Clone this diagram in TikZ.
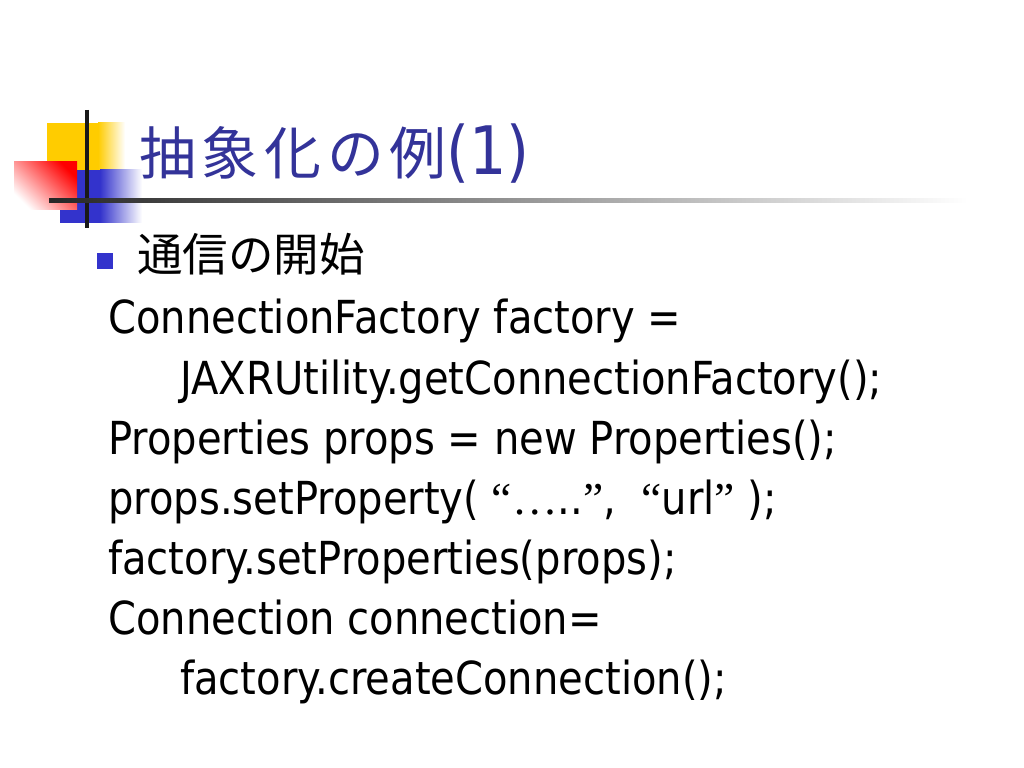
\documentclass[tikz,border=0pt]{standalone}
\usepackage{fontspec}
\setmainfont{DejaVu Sans}[FakeStretch=0.88]
\newfontfamily\jpfont{Noto Sans CJK JP}
\newfontfamily\jptitle{Noto Sans CJK JP}[LetterSpace=10]
\newfontfamily\qfont{Liberation Serif}
\definecolor{titleblue}{RGB}{51,51,153}
\definecolor{barblue}{RGB}{51,51,204}
\definecolor{baryellow}{RGB}{255,204,0}
\begin{document}
\begin{tikzpicture}[x=0.703125pt,y=-0.703125pt,
		code/.style={anchor=base west,inner sep=0pt,font=\fontsize{32}{38}\selectfont}]
	\useasboundingbox[fill=white] (0,0) rectangle (1024,768);
	% corner decoration
	\fill[baryellow] (47,123) rectangle (98,171);
	\shade[left color=baryellow,right color=white] (98,123) rectangle (125,171);
	\fill[barblue] (60,170) rectangle (100,223);
	\shade[left color=barblue,right color=white] (100,170) rectangle (142,223);
	\shade[top color=red,bottom color=white,shading angle=-45] (14,162) rectangle (77,210);
	\draw[line width=2.8pt,black!90] (87,110)--(87,228);
	\shade[left color=black!85,middle color=black!40,right color=white] (49,199) rectangle (968,203);
	% title
	\node[anchor=base west,inner sep=0pt,text=titleblue,font=\fontsize{47}{50}\selectfont] (title) at (139,175) {{\jptitle\fontsize{40}{50}\selectfont 抽象化の例}(1)};
	% body
	\node[fill=barblue,minimum size=11pt,inner sep=0pt] (bullet) at (105,261) {};
	\node[code] (head) at (137,272) {\jpfont 通信の開始};
	\node[code] (cf) at (108,334) {ConnectionFactory factory =};
	\node[code] (jaxr) at (180,394) {JAXRUtility.getConnectionFactory();};
	\node[code] (props) at (108,454) {Properties props = new Properties();};
	\node[code] (setprop) at (108,514) {props.setProperty( {\qfont “…}..{\qfont ”}, \ {\qfont “}url{\qfont ”} );};
	\node[code] (setprops) at (108,574) {factory.setProperties(props);};
	\node[code] (conn) at (108,634) {Connection connection=};
	\node[code] (create) at (180,694) {factory.createConnection();};
\end{tikzpicture}
\end{document}
